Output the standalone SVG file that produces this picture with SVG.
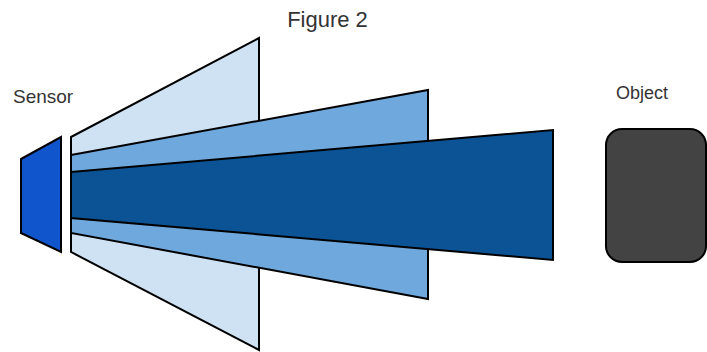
<svg xmlns="http://www.w3.org/2000/svg" width="707" height="352" viewBox="0 0 707 352">
<style>
.s{stroke:#000;stroke-width:2;stroke-linejoin:miter}
.t{font-family:"Liberation Sans",Arial,sans-serif;fill:#333}
</style>
<rect width="707" height="352" fill="#fff"/>
<text class="t" x="327.5" y="27" font-size="22" text-anchor="middle">Figure 2</text>
<text class="t" x="13" y="103" font-size="19">Sensor</text>
<text class="t" x="616" y="99" font-size="18">Object</text>
<g id="beam-wide"><polygon class="s" fill="#cfe2f3" points="71,137 259,38 259,350 71,252"/></g>
<g id="beam-medium"><polygon class="s" fill="#6fa8dc" points="71,155 428,90 428,299 71,233"/></g>
<g id="beam-narrow"><polygon class="s" fill="#0b5394" points="71,172 553,130 553,260 71,218"/></g>
<g id="sensor"><polygon class="s" fill="#1155cc" points="21,159 61,137 61,252 21,233"/></g>
<g id="object"><rect class="s" fill="#434343" x="606" y="129" width="100" height="133" rx="16"/></g>
<g id="connectors"></g>
</svg>
